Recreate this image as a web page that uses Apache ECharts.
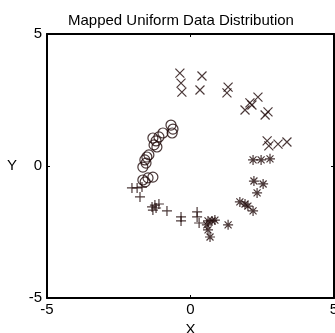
<!DOCTYPE html>
<html>
<head>
<meta charset="utf-8">
<script src="https://cdn.jsdelivr.net/npm/echarts@6/dist/echarts.min.js"></script>
<style>html,body{margin:0;padding:0;background:#fff}#c{width:335px;height:333px}</style>
</head>
<body>
<div id="c"></div>
<script>
var titleText = 'Mapped Uniform Data Distribution';
var xTicks = [-5, 0, 5];
var yTicks = [-5, 0, 5];

var circlePts = [
  [-0.68, 1.55], [-0.61, 1.40], [-0.64, 1.25], [-0.96, 1.25], [-1.10, 1.10],
  [-1.31, 1.06], [-1.20, 0.95], [-1.27, 0.80], [-1.17, 0.72], [-1.52, 0.34],
  [-1.45, 0.42], [-1.59, 0.23], [-1.55, 0.11], [-1.66, -0.04], [-1.66, -0.53],
  [-1.48, -0.45], [-1.31, -0.42], [-1.58, -0.60]
];
var plusPts = [
  [-2.04, -0.83], [-1.86, -0.83], [-1.69, -0.80], [-1.76, -1.17], [-1.34, -1.55],
  [-1.24, -1.48], [-1.10, -1.44], [-1.31, -1.67], [-1.20, -1.59], [-0.82, -1.70],
  [-0.33, -1.93], [-0.33, -2.08], [0.23, -1.74], [0.23, -1.93], [0.30, -2.16]
];
var starPts = [
  [2.18, 0.23], [2.46, 0.23], [2.77, 0.27], [2.21, -0.57], [2.53, -0.68],
  [2.32, -1.02], [1.72, -1.36], [1.90, -1.44], [2.00, -1.52], [2.18, -1.70],
  [0.61, -2.08], [0.75, -2.08], [0.85, -2.05], [0.57, -2.23], [0.61, -2.42],
  [0.68, -2.69], [1.31, -2.23]
];
var crossPts = [
  [-0.37, 3.52], [-0.33, 3.14], [-0.30, 2.80], [0.40, 3.41], [0.33, 2.88],
  [1.31, 2.99], [1.27, 2.77], [2.35, 2.61], [2.07, 2.39], [1.90, 2.12],
  [2.14, 2.31], [2.70, 2.05], [2.60, 1.93], [2.67, 0.95], [2.73, 0.76],
  [3.05, 0.83], [3.36, 0.91]
];

var ink = '#1e0808';
var font = 'Liberation Sans, Arial, sans-serif';

function mk(name, data, symbol, size) {
  return {
    name: name, type: 'scatter', data: data, symbol: symbol, symbolSize: size,
    xAxisIndex: 0, yAxisIndex: 0,
    itemStyle: { color: 'rgba(0,0,0,0)', borderColor: ink, borderWidth: 1.2 },
    emphasis: { disabled: true }, silent: true
  };
}

var chart = echarts.init(document.getElementById('c'), null, { renderer: 'canvas' });
var lineStyle = { color: '#000', width: 2 };
chart.setOption({
  animation: false,
  backgroundColor: '#fff',
  title: { text: titleText, left: 63, top: 8,
    textStyle: { fontFamily: font, fontSize: 15, fontWeight: 'normal', color: '#000' } },
  grid: { left: 47, right: 1, top: 34, bottom: 35, containLabel: false, outerBoundsMode: 'none' },
  xAxis: [
    { type: 'value', min: xTicks[0], max: xTicks[2], interval: 5, position: 'bottom',
      name: 'X', nameLocation: 'middle', nameGap: 21,
      nameTextStyle: { fontFamily: font, fontSize: 15, color: '#000' },
      axisLine: { onZero: false, lineStyle: lineStyle },
      axisTick: { inside: true, length: 3, lineStyle: { color: '#000', width: 1 } },
      axisLabel: { fontFamily: font, fontSize: 15, color: '#000', margin: 4 },
      splitLine: { show: false } },
    { type: 'value', min: xTicks[0], max: xTicks[2], interval: 5, position: 'top',
      axisLine: { onZero: false, lineStyle: lineStyle },
      axisTick: { inside: true, length: 3, lineStyle: { color: '#000', width: 1 } },
      axisLabel: { show: false }, splitLine: { show: false } }
  ],
  yAxis: [
    { type: 'value', min: yTicks[0], max: yTicks[2], interval: 5, position: 'left',
      name: 'Y', nameLocation: 'middle', nameGap: 30, nameRotate: 0,
      nameTextStyle: { fontFamily: font, fontSize: 15, color: '#000' },
      axisLine: { onZero: false, lineStyle: lineStyle },
      axisTick: { inside: true, length: 3, lineStyle: { color: '#000', width: 1 } },
      axisLabel: { fontFamily: font, fontSize: 15, color: '#000', margin: 5 },
      splitLine: { show: false } },
    { type: 'value', min: yTicks[0], max: yTicks[2], interval: 5, position: 'right',
      axisLine: { onZero: false, lineStyle: lineStyle },
      axisTick: { inside: true, length: 3, lineStyle: { color: '#000', width: 1 } },
      axisLabel: { show: false }, splitLine: { show: false } }
  ],
  series: [
    mk('circles', circlePts, 'circle', 10),
    mk('plus', plusPts, 'path://M5,0L5,10M0,5L10,5', 10),
    mk('star', starPts, 'path://M5,0L5,10M0,5L10,5M1.5,1.5L8.5,8.5M8.5,1.5L1.5,8.5', 10),
    mk('cross', crossPts, 'path://M0,0L10,10M10,0L0,10', 9)
  ]
});
</script>
</body>
</html>
